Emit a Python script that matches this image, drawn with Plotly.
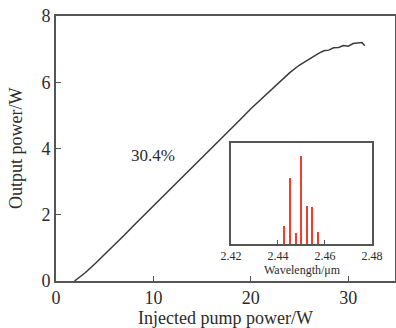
import plotly.graph_objects as go

# Main curve: injected pump power (W) vs output power (W)
pump_power = [1.9, 3, 4, 5, 6, 7, 8, 9, 10, 11, 12, 13, 14, 15, 16, 17, 18, 19, 20, 21,
              22, 23, 24, 25, 26, 27, 27.5, 28, 28.5, 29, 29.5, 30, 30.5, 31, 31.4, 31.7]
output_power = [0, 0.25, 0.52, 0.80, 1.09, 1.38, 1.68, 1.97, 2.26, 2.55, 2.84, 3.13, 3.43, 3.72,
                4.01, 4.30, 4.60, 4.90, 5.20, 5.48, 5.76, 6.04, 6.29, 6.52, 6.71, 6.88, 6.95,
                6.97, 7.04, 7.05, 7.11, 7.09, 7.17, 7.18, 7.20, 7.10]

# Inset spectrum
wavelength = [2.4427, 2.4451, 2.4475, 2.4499, 2.4522, 2.4544, 2.4569]
intensity = [0.18, 0.65, 0.11, 0.87, 0.38, 0.37, 0.12]

x_ticks = [0, 10, 20, 30]
y_ticks = [0, 2, 4, 6, 8]
inset_ticks = [2.42, 2.44, 2.46, 2.48]

FONT = "Liberation Serif"
TXT = "#2b2b2b"
AX = "#555555"

fig = go.Figure()
fig.add_trace(go.Scatter(x=pump_power, y=output_power, mode="lines",
                         line=dict(color="#3a3a3a", width=1.5), showlegend=False))
fig.add_trace(go.Bar(x=wavelength, y=intensity, width=0.0009, marker=dict(color="#f23c2c", line=dict(width=0)),
                     xaxis="x2", yaxis="y2", showlegend=False))

fig.update_layout(
    width=396, height=328,
    margin=dict(l=56, r=1, t=16, b=47),
    paper_bgcolor="white", plot_bgcolor="white",
    font=dict(family=FONT, color=TXT, size=16),
    xaxis=dict(range=[0, 34.8], tickvals=x_ticks, ticks="inside", ticklen=5, tickcolor=AX,
               showline=True, linecolor=AX, linewidth=1.6, mirror=True, showgrid=False, zeroline=False,
               tickfont=dict(size=18), automargin=False, domain=[0, 1]),
    yaxis=dict(range=[0, 8], tickvals=y_ticks, ticks="inside", ticklen=5, tickcolor=AX,
               showline=True, linecolor=AX, linewidth=1.6, mirror=True, showgrid=False, zeroline=False,
               tickfont=dict(size=18), automargin=False, domain=[0, 1]),
    xaxis2=dict(domain=[0.516, 0.932], anchor="y2", range=[2.42, 2.48], tickvals=inset_ticks,
                ticktext=["2.42", "2.44", "2.46", "2.48"],
                ticks="inside", ticklen=4, tickcolor=AX, showline=True, linecolor=AX, linewidth=1.5,
                mirror=True, showgrid=False, zeroline=False, tickfont=dict(size=12), automargin=False),
    yaxis2=dict(domain=[0.140, 0.521], anchor="x2", range=[0, 1], showticklabels=False, ticks="",
                showline=True, linecolor=AX, linewidth=1.5, mirror=True, showgrid=False, zeroline=False,
                automargin=False),
    bargap=0,
    annotations=[
        dict(x=9.95, y=3.8, xref="x", yref="y", text="30.4%", showarrow=False,
             font=dict(size=17, color=TXT, family=FONT)),
        dict(x=0.501, y=-0.138, xref="paper", yref="paper", text="Injected pump power/W", showarrow=False,
             xanchor="center", yanchor="middle", font=dict(size=18, color=TXT, family=FONT)),
        dict(x=-0.118, y=0.502, xref="paper", yref="paper", text="Output power/W", showarrow=False,
             textangle=-90, xanchor="center", yanchor="middle", font=dict(size=18, color=TXT, family=FONT)),
        dict(x=0.726, y=0.043, xref="paper", yref="paper", text="Wavelength/μm", showarrow=False,
             xanchor="center", yanchor="middle", font=dict(size=12, color=TXT, family=FONT)),
    ],
)

fig.write_html("out.html", config={"displayModeBar": False},
               post_script="document.body.style.margin='0';document.body.style.overflow='hidden';")
